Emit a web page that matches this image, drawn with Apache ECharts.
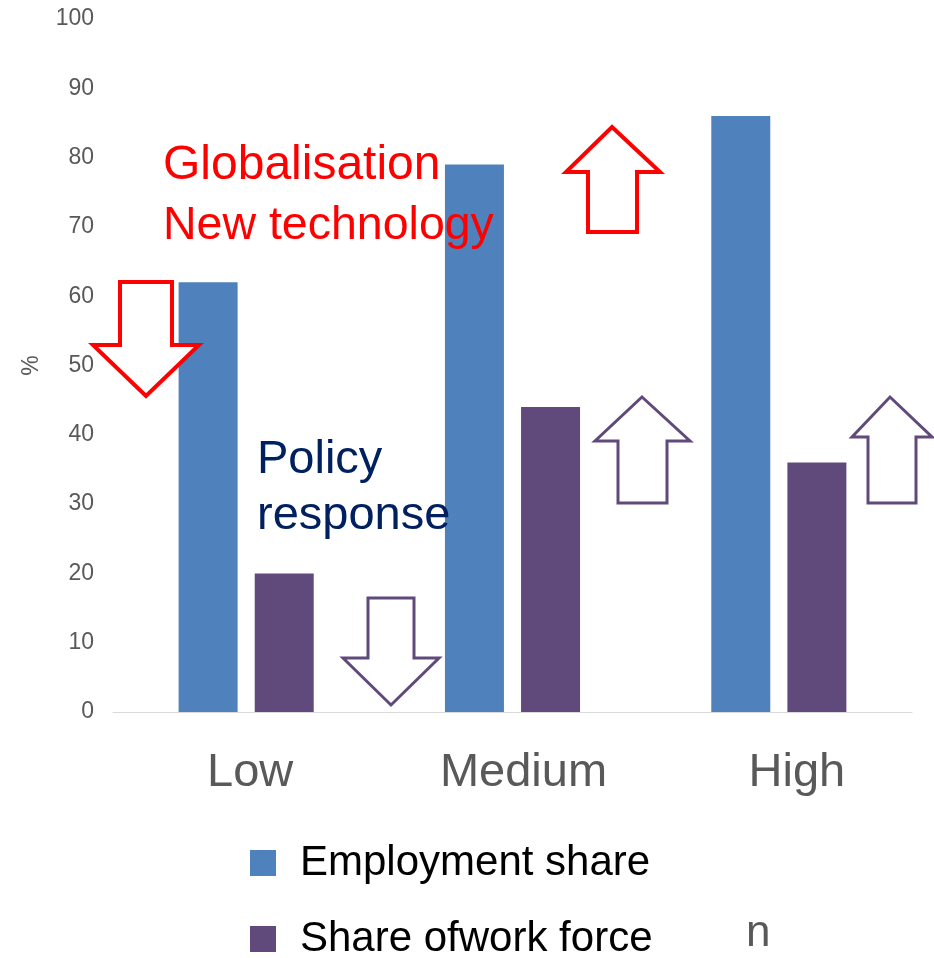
<!DOCTYPE html>
<html><head><meta charset="utf-8">
<script src="https://cdn.jsdelivr.net/npm/echarts@6/dist/echarts.min.js"></script>
<style>html,body{margin:0;padding:0;background:#fff}#c{width:934px;height:958px}</style>
</head><body><div id="c"></div>
<script>
const categories = ['Low', 'Medium', 'High'];
const employmentShare = [62, 79, 86];
const shareOfWorkForce = [20, 44, 36];
const yTicks = [0, 10, 20, 30, 40, 50, 60, 70, 80, 90, 100];

const FONT = '"Liberation Sans", Arial, sans-serif';
const chart = echarts.init(document.getElementById('c'));

function arrow(points, color, width) {
  return { type: 'polygon', shape: { points: points }, style: { fill: '#fff', stroke: color, lineWidth: width }, z: 100 };
}
function txt(x, y, t, size, color) {
  return { type: 'text', x: x, y: y, style: { text: t, font: size + 'px ' + FONT, fill: color, textVerticalAlign: 'middle' }, z: 110 };
}
function legendItem(name, top) {
  return {
    orient: 'vertical', left: 250, top: top, padding: 0,
    itemWidth: 26, itemHeight: 26, icon: 'rect',
    textStyle: { fontFamily: FONT, fontSize: 42, color: '#000', padding: [0, 0, 0, 19] },
    data: [name]
  };
}
const catKeys = ['a', 'b', 'c'];
const labelStyle = { fontFamily: FONT, fontSize: 47, color: '#595959' };

chart.setOption({
  animation: false,
  grid: { left: 113, right: 22, top: 19, bottom: 246 },
  legend: [legendItem('Employment share', 842), legendItem('Share ofwork force', 918)],
  xAxis: {
    type: 'category', data: categories,
    axisLine: { lineStyle: { color: '#d9d9d9', width: 1 } },
    axisTick: { show: false },
    axisLabel: {
      margin: 38,
      formatter: (v, i) => '{' + catKeys[i] + '|' + v + '}',
      rich: {
        a: Object.assign({ padding: [0, 0, 0, 8] }, labelStyle),
        b: Object.assign({ padding: [0, 0, 0, 22] }, labelStyle),
        c: Object.assign({ padding: [0, 0, 0, 36] }, labelStyle)
      }
    }
  },
  yAxis: {
    type: 'value', min: 0, max: 100, interval: 10,
    name: '%', nameLocation: 'middle', nameGap: 70, nameRotate: 90,
    nameTextStyle: { fontFamily: FONT, fontSize: 23, color: '#595959' },
    axisLine: { show: false }, axisTick: { show: false }, splitLine: { show: false },
    axisLabel: { fontFamily: FONT, fontSize: 23, color: '#595959', margin: 19,
      formatter: v => yTicks.includes(v) ? String(v) : '' }
  },
  series: [
    { name: 'Employment share', type: 'bar', data: employmentShare, barWidth: 59, barGap: '29%',
      itemStyle: { color: '#4F81BD' } },
    { name: 'Share ofwork force', type: 'bar', data: shareOfWorkForce, barWidth: 59,
      itemStyle: { color: '#604A7B' } }
  ],
  graphic: [
    arrow([[120,282],[172,282],[172,345],[199,345],[146,396],[93,345],[120,345]], '#FF0000', 4),
    arrow([[612,127],[660,172],[637,172],[637,232],[588,232],[588,172],[566,172]], '#FF0000', 4),
    arrow([[642,397],[690,441],[667,441],[667,503],[618,503],[618,441],[595,441]], '#604A7B', 3),
    arrow([[890,397],[932,437],[916,437],[916,503],[868,503],[868,437],[852,437]], '#604A7B', 3),
    arrow([[368,598],[414,598],[414,658],[439,658],[391,705],[343,658],[368,658]], '#604A7B', 3),
    txt(163, 166, 'Globalisation', 48, '#FF0000'),
    txt(163, 226, 'New technology', 46.5, '#FF0000'),
    txt(257, 460, 'Policy', 47, '#002060'),
    txt(257, 516, 'response', 47, '#002060'),
    txt(746, 934, 'n', 44, '#595959')
  ]
});
</script></body></html>
